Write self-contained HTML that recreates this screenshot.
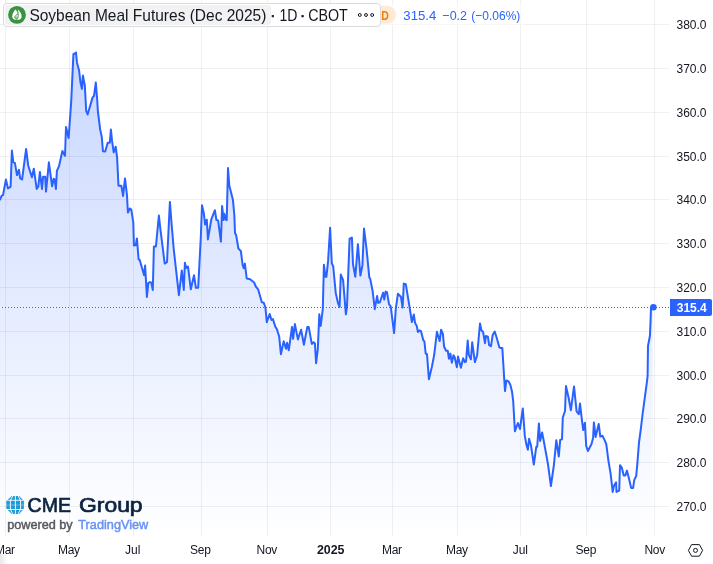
<!DOCTYPE html>
<html><head><meta charset="utf-8"><title>Soybean Meal Futures (Dec 2025)</title>
<style>
html,body{margin:0;padding:0;background:#fff;width:713px;height:564px;overflow:hidden}
svg{position:absolute;left:0;top:0;display:block}
text{font-family:"Liberation Sans",Arial,sans-serif}
</style></head><body>
<svg width="713" height="564" viewBox="0 0 713 564">
<defs>
<linearGradient id="ag" x1="0" y1="0" x2="0" y2="536" gradientUnits="userSpaceOnUse">
<stop offset="0" stop-color="#2962ff" stop-opacity="0.28"/>
<stop offset="1" stop-color="#2962ff" stop-opacity="0"/>
</linearGradient>
<clipPath id="pane"><rect x="0" y="0" width="669" height="536"/></clipPath>
</defs>
<g stroke="#2a2e39" stroke-opacity="0.07" stroke-width="1" shape-rendering="crispEdges">
<line x1="0" y1="24.5" x2="669" y2="24.5"/>
<line x1="0" y1="68.5" x2="669" y2="68.5"/>
<line x1="0" y1="112.5" x2="669" y2="112.5"/>
<line x1="0" y1="156.5" x2="669" y2="156.5"/>
<line x1="0" y1="199.5" x2="669" y2="199.5"/>
<line x1="0" y1="243.5" x2="669" y2="243.5"/>
<line x1="0" y1="287.5" x2="669" y2="287.5"/>
<line x1="0" y1="331.5" x2="669" y2="331.5"/>
<line x1="0" y1="375.5" x2="669" y2="375.5"/>
<line x1="0" y1="418.5" x2="669" y2="418.5"/>
<line x1="0" y1="462.5" x2="669" y2="462.5"/>
<line x1="0" y1="506.5" x2="669" y2="506.5"/>
<line x1="5.5" y1="0" x2="5.5" y2="536"/>
<line x1="69.5" y1="0" x2="69.5" y2="536"/>
<line x1="133.5" y1="0" x2="133.5" y2="536"/>
<line x1="201.5" y1="0" x2="201.5" y2="536"/>
<line x1="267.5" y1="0" x2="267.5" y2="536"/>
<line x1="330.5" y1="0" x2="330.5" y2="536"/>
<line x1="392.5" y1="0" x2="392.5" y2="536"/>
<line x1="457.5" y1="0" x2="457.5" y2="536"/>
<line x1="520.5" y1="0" x2="520.5" y2="536"/>
<line x1="586.5" y1="0" x2="586.5" y2="536"/>
<line x1="654.5" y1="0" x2="654.5" y2="536"/>
</g>
<g clip-path="url(#pane)">
<path d="M0,199.5 L1.6,195.9 L3,195.1 L5.9,179.6 L8,188.4 L10.6,186.8 L11.9,150.6 L13.3,162.3 L14.9,162.9 L17,175.1 L18.9,169.8 L20.2,178.3 L22.1,179.4 L26.1,149 L28.2,165.5 L31.9,177.2 L33.8,168.7 L36.7,188.9 L38.3,186.7 L39.9,171.9 L42,188.9 L43.1,176.7 L45.2,176.7 L46,191.6 L48.9,162.3 L52.1,186.3 L53.7,178.8 L54.6,179.6 L55.9,188.9 L56.9,170.9 L59,166.1 L62.4,151 L65,155.8 L66,127 L68.6,138.1 L70.4,113.3 L71.3,99.6 L73.4,54.2 L74.8,53.5 L76,52.5 L77,62.7 L79.1,70.5 L80.5,82.6 L81.9,88.9 L82.9,75.5 L84.8,85.4 L86.2,110.9 L87.6,114.5 L92.6,97.4 L94,96 L95.8,82.6 L97.2,99.6 L97.9,111.5 L99.6,124.8 L100.1,129.1 L101.8,137 L102.9,151.2 L105.2,151.6 L107.7,142.7 L109.8,142.7 L110.9,129.6 L112,140.4 L113.7,152.3 L115.7,146.7 L117.1,157.5 L118.5,185.8 L121.4,185.8 L123.1,196 L125,178.4 L127,195.4 L127.9,212.5 L129.9,208.5 L131.3,209.6 L133.3,222.7 L133.9,245.4 L135.8,245 L136.9,238.4 L138.6,259.4 L139.8,260.2 L144.1,275.3 L145.1,265.6 L146.9,296.9 L148.3,283.2 L150,282.1 L151.3,282.7 L152.8,290 L153.9,246.4 L155.9,246.4 L158.9,215.5 L160.2,227.5 L164.7,263.6 L167,262.2 L169.9,201.9 L171.6,224 L173.8,249.8 L178.9,295.2 L181.8,270.4 L183.8,290 L184.9,262.8 L186.3,267.9 L188,266.6 L190.8,289.3 L194,275.3 L195.9,287.8 L198.2,287.8 L200.9,235.4 L202,205.3 L203.9,213.8 L205.1,224.6 L206.8,219.7 L207.9,239.4 L211.3,219.5 L214.9,210.2 L216.4,220.1 L218.1,220.4 L220.9,241.6 L222.1,206.1 L223.6,220.1 L224.3,213.8 L225.8,219.5 L226.7,220.2 L228,168 L229.3,185.5 L232.9,199.7 L234.3,214.5 L235,233.2 L236.1,234.9 L238.4,248.5 L240.9,251.1 L242.6,265 L243.7,268.3 L244.9,263.6 L246.7,278.5 L250.1,279.3 L254.1,282.5 L255.8,286.5 L258.1,289.3 L261.8,302.3 L263.7,302.7 L265.4,307.5 L266.8,322.2 L269.7,314 L271.5,320 L272.9,319 L275.2,326.4 L276.9,329.2 L279.2,336.6 L280.9,354.2 L283.7,341.3 L286,348.8 L287.1,342.8 L288.8,350.2 L292,326.9 L293.1,338.8 L294.9,324.1 L297.9,339.4 L301.1,329.8 L303.9,344.7 L307.3,326.9 L308.7,326.9 L311.8,343.9 L313.6,342.2 L314.9,343.4 L316.1,363.2 L317.8,349.1 L319.3,314.3 L320.7,326 L322.8,309.2 L323.9,264.8 L325.4,276.8 L326.4,276.8 L328.1,260.9 L330.1,227.7 L331.8,263.1 L333.2,266.5 L335.7,292.7 L337.9,302.9 L339.6,306.9 L340.8,274.5 L343.1,280.2 L345.9,314.3 L347,306.3 L349.6,238.7 L351.9,237.6 L353,264.3 L355.3,276.8 L357.9,244.2 L360.4,275.6 L362.4,265.4 L364,228.5 L366.6,249.5 L369.3,277.4 L370.3,279.1 L372.6,291 L374.8,309.2 L377.1,296.1 L378.2,302.9 L379.9,302.3 L383.1,292.7 L384.3,299.5 L385.6,291.6 L387,292.1 L389,304.1 L390.7,306.3 L394.1,333 L395.8,308.6 L397.9,293.8 L400.9,296.7 L402.6,307.5 L403.8,283.6 L405.8,284.2 L409.6,307.4 L411.9,322.1 L413.8,314.5 L415,322.7 L416.8,326.1 L417.9,332 L419.5,330.4 L421,331.2 L423.3,340.3 L424.4,341.4 L425.7,353.6 L427,354.2 L428.9,379.2 L431.9,366.7 L434.2,354.8 L436.9,331.8 L439.7,341.1 L441.1,329.7 L442.9,333.8 L444.1,346.8 L446.1,350.8 L447.8,350.8 L448.9,358.7 L450.4,353.6 L451.8,362.7 L453.5,355.3 L454.6,357 L456.9,367.2 L458,356.5 L460.9,367.8 L463.1,358.2 L464.8,362.1 L466,361.6 L467.7,340.6 L468.8,354.8 L470.9,359.3 L472.2,342.3 L474.9,362.1 L477.1,355.5 L480,323.5 L481.4,330.3 L483.1,332 L485,343.2 L485.9,336 L487.9,336.6 L489.1,345.1 L491,346.2 L492.7,334.9 L494.7,331.5 L496.7,337.7 L499.3,347.3 L500.4,347.9 L502.3,347.9 L505,391 L506.4,380.4 L508.6,381.4 L510.3,384.8 L512,391.6 L513.2,401.2 L514.9,431.3 L517.9,423 L520,429 L522.8,408.4 L524.8,435.9 L526.5,445 L527.9,449.7 L529.1,438.7 L531,445.5 L533.8,464.5 L536.3,446.7 L537.2,446.7 L538.9,423.4 L540.1,441 L542.1,432.5 L544.1,442.7 L548,464.3 L550.9,486 L553.9,465 L556.3,440.2 L558.8,456.5 L560.2,439.9 L562,439.3 L562.8,417.5 L565,411 L566,386.1 L568.6,397.7 L570.9,410.2 L574,386.4 L576.6,411.3 L578.8,414.2 L580,403.4 L581.7,418.1 L583.2,430.1 L584.9,422.7 L586.2,445.9 L587.9,451 L591.4,444.2 L593.1,437.9 L593.9,422.4 L595.6,436.9 L598.7,424 L600.3,436.5 L602.4,435.7 L604.4,439.6 L606.3,444.2 L608.4,460.6 L610.6,473.7 L612.7,491.9 L614.1,485.6 L616.1,482.4 L616.5,491.9 L619.2,490.7 L620,465.2 L621.8,467.5 L623.7,475.4 L625.4,475.4 L626.9,470.6 L628.8,477.7 L631.1,487.9 L633.1,487.9 L634.3,479.9 L636.2,476 L637.3,464.1 L639,442.5 L640.7,430 L642.6,414 L646.8,382.9 L647.6,376 L648,346 L649.9,336 L650.6,320 L651,307.5 L652.7,307.5 L652.7,536 L0,536 Z" fill="url(#ag)"/>
<line x1="0" y1="307.5" x2="669" y2="307.5" stroke="#ffffff" stroke-opacity="0.45" stroke-width="1"/>
<line x1="2" y1="307.5" x2="669" y2="307.5" stroke="#2962ff" stroke-width="1" stroke-dasharray="1 2" shape-rendering="crispEdges"/>
<path d="M0,199.5 L1.6,195.9 L3,195.1 L5.9,179.6 L8,188.4 L10.6,186.8 L11.9,150.6 L13.3,162.3 L14.9,162.9 L17,175.1 L18.9,169.8 L20.2,178.3 L22.1,179.4 L26.1,149 L28.2,165.5 L31.9,177.2 L33.8,168.7 L36.7,188.9 L38.3,186.7 L39.9,171.9 L42,188.9 L43.1,176.7 L45.2,176.7 L46,191.6 L48.9,162.3 L52.1,186.3 L53.7,178.8 L54.6,179.6 L55.9,188.9 L56.9,170.9 L59,166.1 L62.4,151 L65,155.8 L66,127 L68.6,138.1 L70.4,113.3 L71.3,99.6 L73.4,54.2 L74.8,53.5 L76,52.5 L77,62.7 L79.1,70.5 L80.5,82.6 L81.9,88.9 L82.9,75.5 L84.8,85.4 L86.2,110.9 L87.6,114.5 L92.6,97.4 L94,96 L95.8,82.6 L97.2,99.6 L97.9,111.5 L99.6,124.8 L100.1,129.1 L101.8,137 L102.9,151.2 L105.2,151.6 L107.7,142.7 L109.8,142.7 L110.9,129.6 L112,140.4 L113.7,152.3 L115.7,146.7 L117.1,157.5 L118.5,185.8 L121.4,185.8 L123.1,196 L125,178.4 L127,195.4 L127.9,212.5 L129.9,208.5 L131.3,209.6 L133.3,222.7 L133.9,245.4 L135.8,245 L136.9,238.4 L138.6,259.4 L139.8,260.2 L144.1,275.3 L145.1,265.6 L146.9,296.9 L148.3,283.2 L150,282.1 L151.3,282.7 L152.8,290 L153.9,246.4 L155.9,246.4 L158.9,215.5 L160.2,227.5 L164.7,263.6 L167,262.2 L169.9,201.9 L171.6,224 L173.8,249.8 L178.9,295.2 L181.8,270.4 L183.8,290 L184.9,262.8 L186.3,267.9 L188,266.6 L190.8,289.3 L194,275.3 L195.9,287.8 L198.2,287.8 L200.9,235.4 L202,205.3 L203.9,213.8 L205.1,224.6 L206.8,219.7 L207.9,239.4 L211.3,219.5 L214.9,210.2 L216.4,220.1 L218.1,220.4 L220.9,241.6 L222.1,206.1 L223.6,220.1 L224.3,213.8 L225.8,219.5 L226.7,220.2 L228,168 L229.3,185.5 L232.9,199.7 L234.3,214.5 L235,233.2 L236.1,234.9 L238.4,248.5 L240.9,251.1 L242.6,265 L243.7,268.3 L244.9,263.6 L246.7,278.5 L250.1,279.3 L254.1,282.5 L255.8,286.5 L258.1,289.3 L261.8,302.3 L263.7,302.7 L265.4,307.5 L266.8,322.2 L269.7,314 L271.5,320 L272.9,319 L275.2,326.4 L276.9,329.2 L279.2,336.6 L280.9,354.2 L283.7,341.3 L286,348.8 L287.1,342.8 L288.8,350.2 L292,326.9 L293.1,338.8 L294.9,324.1 L297.9,339.4 L301.1,329.8 L303.9,344.7 L307.3,326.9 L308.7,326.9 L311.8,343.9 L313.6,342.2 L314.9,343.4 L316.1,363.2 L317.8,349.1 L319.3,314.3 L320.7,326 L322.8,309.2 L323.9,264.8 L325.4,276.8 L326.4,276.8 L328.1,260.9 L330.1,227.7 L331.8,263.1 L333.2,266.5 L335.7,292.7 L337.9,302.9 L339.6,306.9 L340.8,274.5 L343.1,280.2 L345.9,314.3 L347,306.3 L349.6,238.7 L351.9,237.6 L353,264.3 L355.3,276.8 L357.9,244.2 L360.4,275.6 L362.4,265.4 L364,228.5 L366.6,249.5 L369.3,277.4 L370.3,279.1 L372.6,291 L374.8,309.2 L377.1,296.1 L378.2,302.9 L379.9,302.3 L383.1,292.7 L384.3,299.5 L385.6,291.6 L387,292.1 L389,304.1 L390.7,306.3 L394.1,333 L395.8,308.6 L397.9,293.8 L400.9,296.7 L402.6,307.5 L403.8,283.6 L405.8,284.2 L409.6,307.4 L411.9,322.1 L413.8,314.5 L415,322.7 L416.8,326.1 L417.9,332 L419.5,330.4 L421,331.2 L423.3,340.3 L424.4,341.4 L425.7,353.6 L427,354.2 L428.9,379.2 L431.9,366.7 L434.2,354.8 L436.9,331.8 L439.7,341.1 L441.1,329.7 L442.9,333.8 L444.1,346.8 L446.1,350.8 L447.8,350.8 L448.9,358.7 L450.4,353.6 L451.8,362.7 L453.5,355.3 L454.6,357 L456.9,367.2 L458,356.5 L460.9,367.8 L463.1,358.2 L464.8,362.1 L466,361.6 L467.7,340.6 L468.8,354.8 L470.9,359.3 L472.2,342.3 L474.9,362.1 L477.1,355.5 L480,323.5 L481.4,330.3 L483.1,332 L485,343.2 L485.9,336 L487.9,336.6 L489.1,345.1 L491,346.2 L492.7,334.9 L494.7,331.5 L496.7,337.7 L499.3,347.3 L500.4,347.9 L502.3,347.9 L505,391 L506.4,380.4 L508.6,381.4 L510.3,384.8 L512,391.6 L513.2,401.2 L514.9,431.3 L517.9,423 L520,429 L522.8,408.4 L524.8,435.9 L526.5,445 L527.9,449.7 L529.1,438.7 L531,445.5 L533.8,464.5 L536.3,446.7 L537.2,446.7 L538.9,423.4 L540.1,441 L542.1,432.5 L544.1,442.7 L548,464.3 L550.9,486 L553.9,465 L556.3,440.2 L558.8,456.5 L560.2,439.9 L562,439.3 L562.8,417.5 L565,411 L566,386.1 L568.6,397.7 L570.9,410.2 L574,386.4 L576.6,411.3 L578.8,414.2 L580,403.4 L581.7,418.1 L583.2,430.1 L584.9,422.7 L586.2,445.9 L587.9,451 L591.4,444.2 L593.1,437.9 L593.9,422.4 L595.6,436.9 L598.7,424 L600.3,436.5 L602.4,435.7 L604.4,439.6 L606.3,444.2 L608.4,460.6 L610.6,473.7 L612.7,491.9 L614.1,485.6 L616.1,482.4 L616.5,491.9 L619.2,490.7 L620,465.2 L621.8,467.5 L623.7,475.4 L625.4,475.4 L626.9,470.6 L628.8,477.7 L631.1,487.9 L633.1,487.9 L634.3,479.9 L636.2,476 L637.3,464.1 L639,442.5 L640.7,430 L642.6,414 L646.8,382.9 L647.6,376 L648,346 L649.9,336 L650.6,320 L651,307.5" fill="none" stroke="#2962ff" stroke-width="2" stroke-linejoin="round" stroke-linecap="round"/>
<circle cx="653.4" cy="307.2" r="3.3" fill="#2962ff"/>
</g>
<!-- logo -->
<g>
<path d="M11.8,496 L19.2,496 L23.9,501 L23.9,508.5 L19.2,513.9 L11.8,513.9 L6.3,508.5 L6.3,501 Z" fill="#1f9bd7"/>
<g stroke="#fff" stroke-width="0.9" fill="none">
<path d="M12.8,496 L10.4,500.3 L10.4,509.5 L12.8,513.9"/>
<path d="M18.2,496 L20.4,500.3 L20.7,505 L20.4,509.5 L18.2,513.9"/>
<line x1="15.4" y1="496" x2="15.4" y2="514"/>
<line x1="7" y1="500.3" x2="23.3" y2="500.3"/>
<line x1="7" y1="509.5" x2="23.3" y2="509.5"/>
</g>
<line x1="6.3" y1="505" x2="23.9" y2="505" stroke="#fff" stroke-opacity="0.35" stroke-width="0.9"/>
<text y="512" font-size="20.5" fill="#0c2340" stroke="#0c2340" stroke-width="0.7"><tspan x="27.6" textLength="43.4" lengthAdjust="spacingAndGlyphs">CME</tspan> <tspan x="79" textLength="63.6" lengthAdjust="spacingAndGlyphs">Group</tspan></text>
<text x="7.2" y="528.7" font-size="12.5" fill="#56595f" stroke="#56595f" stroke-width="0.45" textLength="65.5" lengthAdjust="spacingAndGlyphs">powered by</text>
<text x="78.3" y="528.7" font-size="12.5" fill="#6891f5" stroke="#6891f5" stroke-width="0.45" textLength="70" lengthAdjust="spacingAndGlyphs">TradingView</text>
</g>
<!-- price axis -->
<g font-size="12" fill="#131722">
<text x="706.5" y="28.8" text-anchor="end">380.0</text>
<text x="706.5" y="72.8" text-anchor="end">370.0</text>
<text x="706.5" y="116.8" text-anchor="end">360.0</text>
<text x="706.5" y="160.8" text-anchor="end">350.0</text>
<text x="706.5" y="203.8" text-anchor="end">340.0</text>
<text x="706.5" y="247.8" text-anchor="end">330.0</text>
<text x="706.5" y="291.8" text-anchor="end">320.0</text>
<text x="706.5" y="335.8" text-anchor="end">310.0</text>
<text x="706.5" y="379.8" text-anchor="end">300.0</text>
<text x="706.5" y="422.8" text-anchor="end">290.0</text>
<text x="706.5" y="466.8" text-anchor="end">280.0</text>
<text x="706.5" y="510.8" text-anchor="end">270.0</text>
</g>
<rect x="670" y="299" width="42" height="17" rx="2" fill="#2962ff"/>
<rect x="670" y="299" width="4" height="17" fill="#2962ff"/>
<text x="706.8" y="311.9" text-anchor="end" font-size="12" font-weight="bold" fill="#fff">315.4</text>
<!-- time axis -->
<g font-size="12" fill="#131722">
<text x="4.8500000000000005" y="553.8" text-anchor="middle" letter-spacing="-0.3">Mar</text>
<text x="68.85000000000001" y="553.8" text-anchor="middle" letter-spacing="-0.3">May</text>
<text x="132.7" y="553.8" text-anchor="middle" letter-spacing="0">Jul</text>
<text x="200.35" y="553.8" text-anchor="middle" letter-spacing="-0.3">Sep</text>
<text x="266.84999999999997" y="553.8" text-anchor="middle" letter-spacing="-0.3">Nov</text>
<text x="330.7" y="553.8" text-anchor="middle" font-weight="bold" textLength="27.6" lengthAdjust="spacingAndGlyphs">2025</text>
<text x="391.84999999999997" y="553.8" text-anchor="middle" letter-spacing="-0.3">Mar</text>
<text x="456.84999999999997" y="553.8" text-anchor="middle" letter-spacing="-0.3">May</text>
<text x="520.3000000000001" y="553.8" text-anchor="middle" letter-spacing="0">Jul</text>
<text x="585.85" y="553.8" text-anchor="middle" letter-spacing="-0.3">Sep</text>
<text x="654.65" y="553.8" text-anchor="middle" letter-spacing="-0.3">Nov</text>
</g>
<defs><linearGradient id="lf" x1="0" y1="0" x2="1" y2="0"><stop offset="0" stop-color="#000" stop-opacity="0.09"/><stop offset="1" stop-color="#000" stop-opacity="0"/></linearGradient></defs>
<rect x="0" y="554" width="8" height="10" fill="url(#lf)"/>
<!-- settings hex -->
<g fill="none" stroke="#131722" stroke-width="1">
<path d="M688.4,550.4 L691.6,544.6 L699.4,544.6 L702.6,550.4 L699.4,556.2 L691.6,556.2 Z" stroke-linejoin="round"/>
<circle cx="695.5" cy="550.4" r="2"/>
</g>
<!-- legend -->
<rect x="381" y="4" width="144.5" height="22" fill="#fff" fill-opacity="0.5"/>
<rect x="370" y="5.8" width="26.2" height="18" rx="9" fill="#fdebd6"/>
<rect x="3.5" y="3.5" width="377" height="23" rx="3.5" fill="#fff" stroke="#dadbdd" stroke-width="1"/>
<rect x="5" y="5" width="266" height="20" rx="3" fill="#f2f2f2"/>
<circle cx="17" cy="14.9" r="8.9" fill="#3a913f"/>
<path d="M15.4,9.6 C14,11.2 12.3,13.6 12.2,16.3 C12.1,18.3 13.4,19.7 15.6,19.8 L18.4,19.8 C20.4,19.7 21.7,18.4 21.6,16.3 C21.6,13.3 19.5,10.8 17.4,9.3 C18.4,11.2 18.8,12.6 18.6,13.6 C18.3,12 17,10.6 15.4,9.6 Z" fill="#fff"/>
<g fill="none" stroke="#3a913f" stroke-width="0.9" stroke-linecap="round">
<path d="M16.5,9.8 C17.2,11 17.9,12.6 18.2,14.4 C18.5,16.3 18.2,18 16.8,19.5"/>
<path d="M17.9,14.1 C16.4,14.7 15,15.7 14.8,17 C14.7,18.2 15.6,18.9 16.5,18.6 C17.3,18.3 17.3,17.3 16.6,16.9 C16,16.6 15.4,17 15.3,17.4"/>
</g>
<text x="29.4" y="20.8" font-size="15.7" fill="#131722" textLength="237" lengthAdjust="spacingAndGlyphs">Soybean Meal Futures (Dec 2025)</text>
<text x="272.7" y="19.5" font-size="15.4" fill="#131722" stroke="#131722" stroke-width="0.7" text-anchor="middle">·</text>
<text x="279.4" y="20.8" font-size="15.7" fill="#131722" textLength="18" lengthAdjust="spacingAndGlyphs">1D</text>
<text x="302.6" y="19.5" font-size="15.4" fill="#131722" stroke="#131722" stroke-width="0.7" text-anchor="middle">·</text>
<text x="308.2" y="20.8" font-size="15.7" fill="#131722" textLength="39.6" lengthAdjust="spacingAndGlyphs">CBOT</text>
<g fill="none" stroke="#131722" stroke-width="1">
<circle cx="359.8" cy="15" r="1.45"/><circle cx="366" cy="15" r="1.45"/><circle cx="372.2" cy="15" r="1.45"/>
</g>
<text x="381.3" y="19.6" font-size="12.3" font-weight="bold" fill="#f57c00" textLength="7.6" lengthAdjust="spacingAndGlyphs">D</text>
<g font-size="13" fill="#2962ff">
<text x="403.3" y="20" textLength="33" lengthAdjust="spacingAndGlyphs">315.4</text>
<text x="442.3" y="20" textLength="24.8" lengthAdjust="spacingAndGlyphs">−0.2</text>
<text x="471.3" y="20" textLength="49" lengthAdjust="spacingAndGlyphs">(−0.06%)</text>
</g>
</svg>
</body></html>
